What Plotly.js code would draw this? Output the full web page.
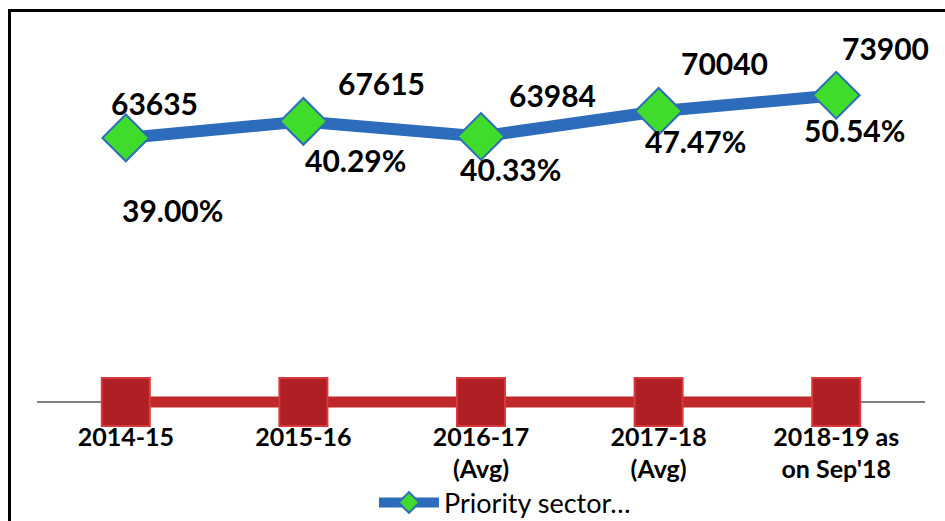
<!DOCTYPE html>
<html>
<head>
<meta charset="utf-8">
<script src="https://cdn.plot.ly/plotly-3.0.1.min.js"></script>
<style>
  html, body { margin: 0; padding: 0; background: #fff; }
  #wrap { position: relative; width: 945px; height: 521px; overflow: hidden; }
  #chart { width: 945px; height: 521px; }
  #frame { position: absolute; left: 8px; top: 9px; width: 960px; height: 540px;
           border-left: 3px solid #000; border-top: 3px solid #000; pointer-events: none; }
</style>
</head>
<body>
<div id="wrap">
  <div id="chart"></div>
  <div id="frame"></div>
</div>
<script>
// ---- data ----
const categories = ["2014-15", "2015-16", "2016-17<br>(Avg)", "2017-18<br>(Avg)", "2018-19 as<br>on Sep'18"];
const prioritySector = [63635, 67615, 63984, 70040, 73900];
const sharePercent = [0.3900, 0.4029, 0.4033, 0.4747, 0.5054];
const shareLabels = ["39.00%", "40.29%", "40.33%", "47.47%", "50.54%"];
const seriesNames = ["Priority sector…", "Share"];

// ---- label placement (pixel offsets, styling only) ----
const valueShiftX = [29, 78, 71, 66, 49];
const valueShiftY = [35, 38, 41, 48, 47];
const pctShiftX = [47, 52, 29, 37, 18];
const pctShiftY = [-72, -39, -33, -30, -35];

const idx = categories.map((_, i) => i);
const labelFont = {family: "Lato, 'Open Sans', sans-serif", size: 30, color: "#000", weight: 700};

const annotations = [];
idx.forEach(i => {
  annotations.push({x: i, y: prioritySector[i], xref: "x", yref: "y", showarrow: false,
    text: "<b>" + prioritySector[i] + "</b>", font: labelFont,
    xshift: valueShiftX[i], yshift: valueShiftY[i]});
  annotations.push({x: i, y: prioritySector[i], xref: "x", yref: "y", showarrow: false,
    text: "<b>" + shareLabels[i] + "</b>", font: labelFont,
    xshift: pctShiftX[i], yshift: pctShiftY[i]});
});

const traces = [
  {
    x: idx, y: sharePercent, name: seriesNames[1], type: "scatter", mode: "lines+markers",
    line: {color: "#c0282a", width: 11},
    marker: {symbol: "square", size: 48, color: "#b01f23", line: {color: "#d8393c", width: 2}},
    showlegend: false, cliponaxis: false, hoverinfo: "none"
  },
  {
    x: idx, y: prioritySector, name: seriesNames[0], type: "scatter", mode: "lines+markers",
    line: {color: "#2c6cbb", width: 12},
    marker: {symbol: "diamond", size: 36, color: "#3fdc2c", line: {color: "#2c6cbb", width: 2}},
    cliponaxis: false, hoverinfo: "none"
  }
];

const layout = {
  width: 945, height: 521,
  margin: {l: 37, r: 20, t: 20, b: 81, autoexpand: false},
  paper_bgcolor: "#fff", plot_bgcolor: "#fff",
  showlegend: true,
  legend: {orientation: "h", x: 0.527, xanchor: "center", xref: "paper", yref: "paper",
           y: -0.150, yanchor: "middle", itemwidth: 60,
           font: {family: "Lato, 'Open Sans', sans-serif", size: 27, color: "#000"},
           bgcolor: "rgba(0,0,0,0)"},
  xaxis: {
    type: "linear", range: [-0.5, 4.5], tickmode: "array", tickvals: idx, ticktext: categories,
    showgrid: false, zeroline: false, showline: true, linecolor: "#808080", linewidth: 2,
    anchor: "free", position: 0.0905, ticks: "", layer: "below traces",
    ticklabelstandoff: 13, automargin: false,
    tickfont: {family: "Lato, 'Open Sans', sans-serif", size: 25, color: "#000", weight: 700}
  },
  yaxis: {
    range: [-9157, 92048], showgrid: false, zeroline: false, showline: false,
    showticklabels: false, ticks: "", automargin: false
  },
  annotations: annotations
};

Plotly.newPlot("chart", traces, layout, {displayModeBar: false, staticPlot: true});
</script>
</body>
</html>
